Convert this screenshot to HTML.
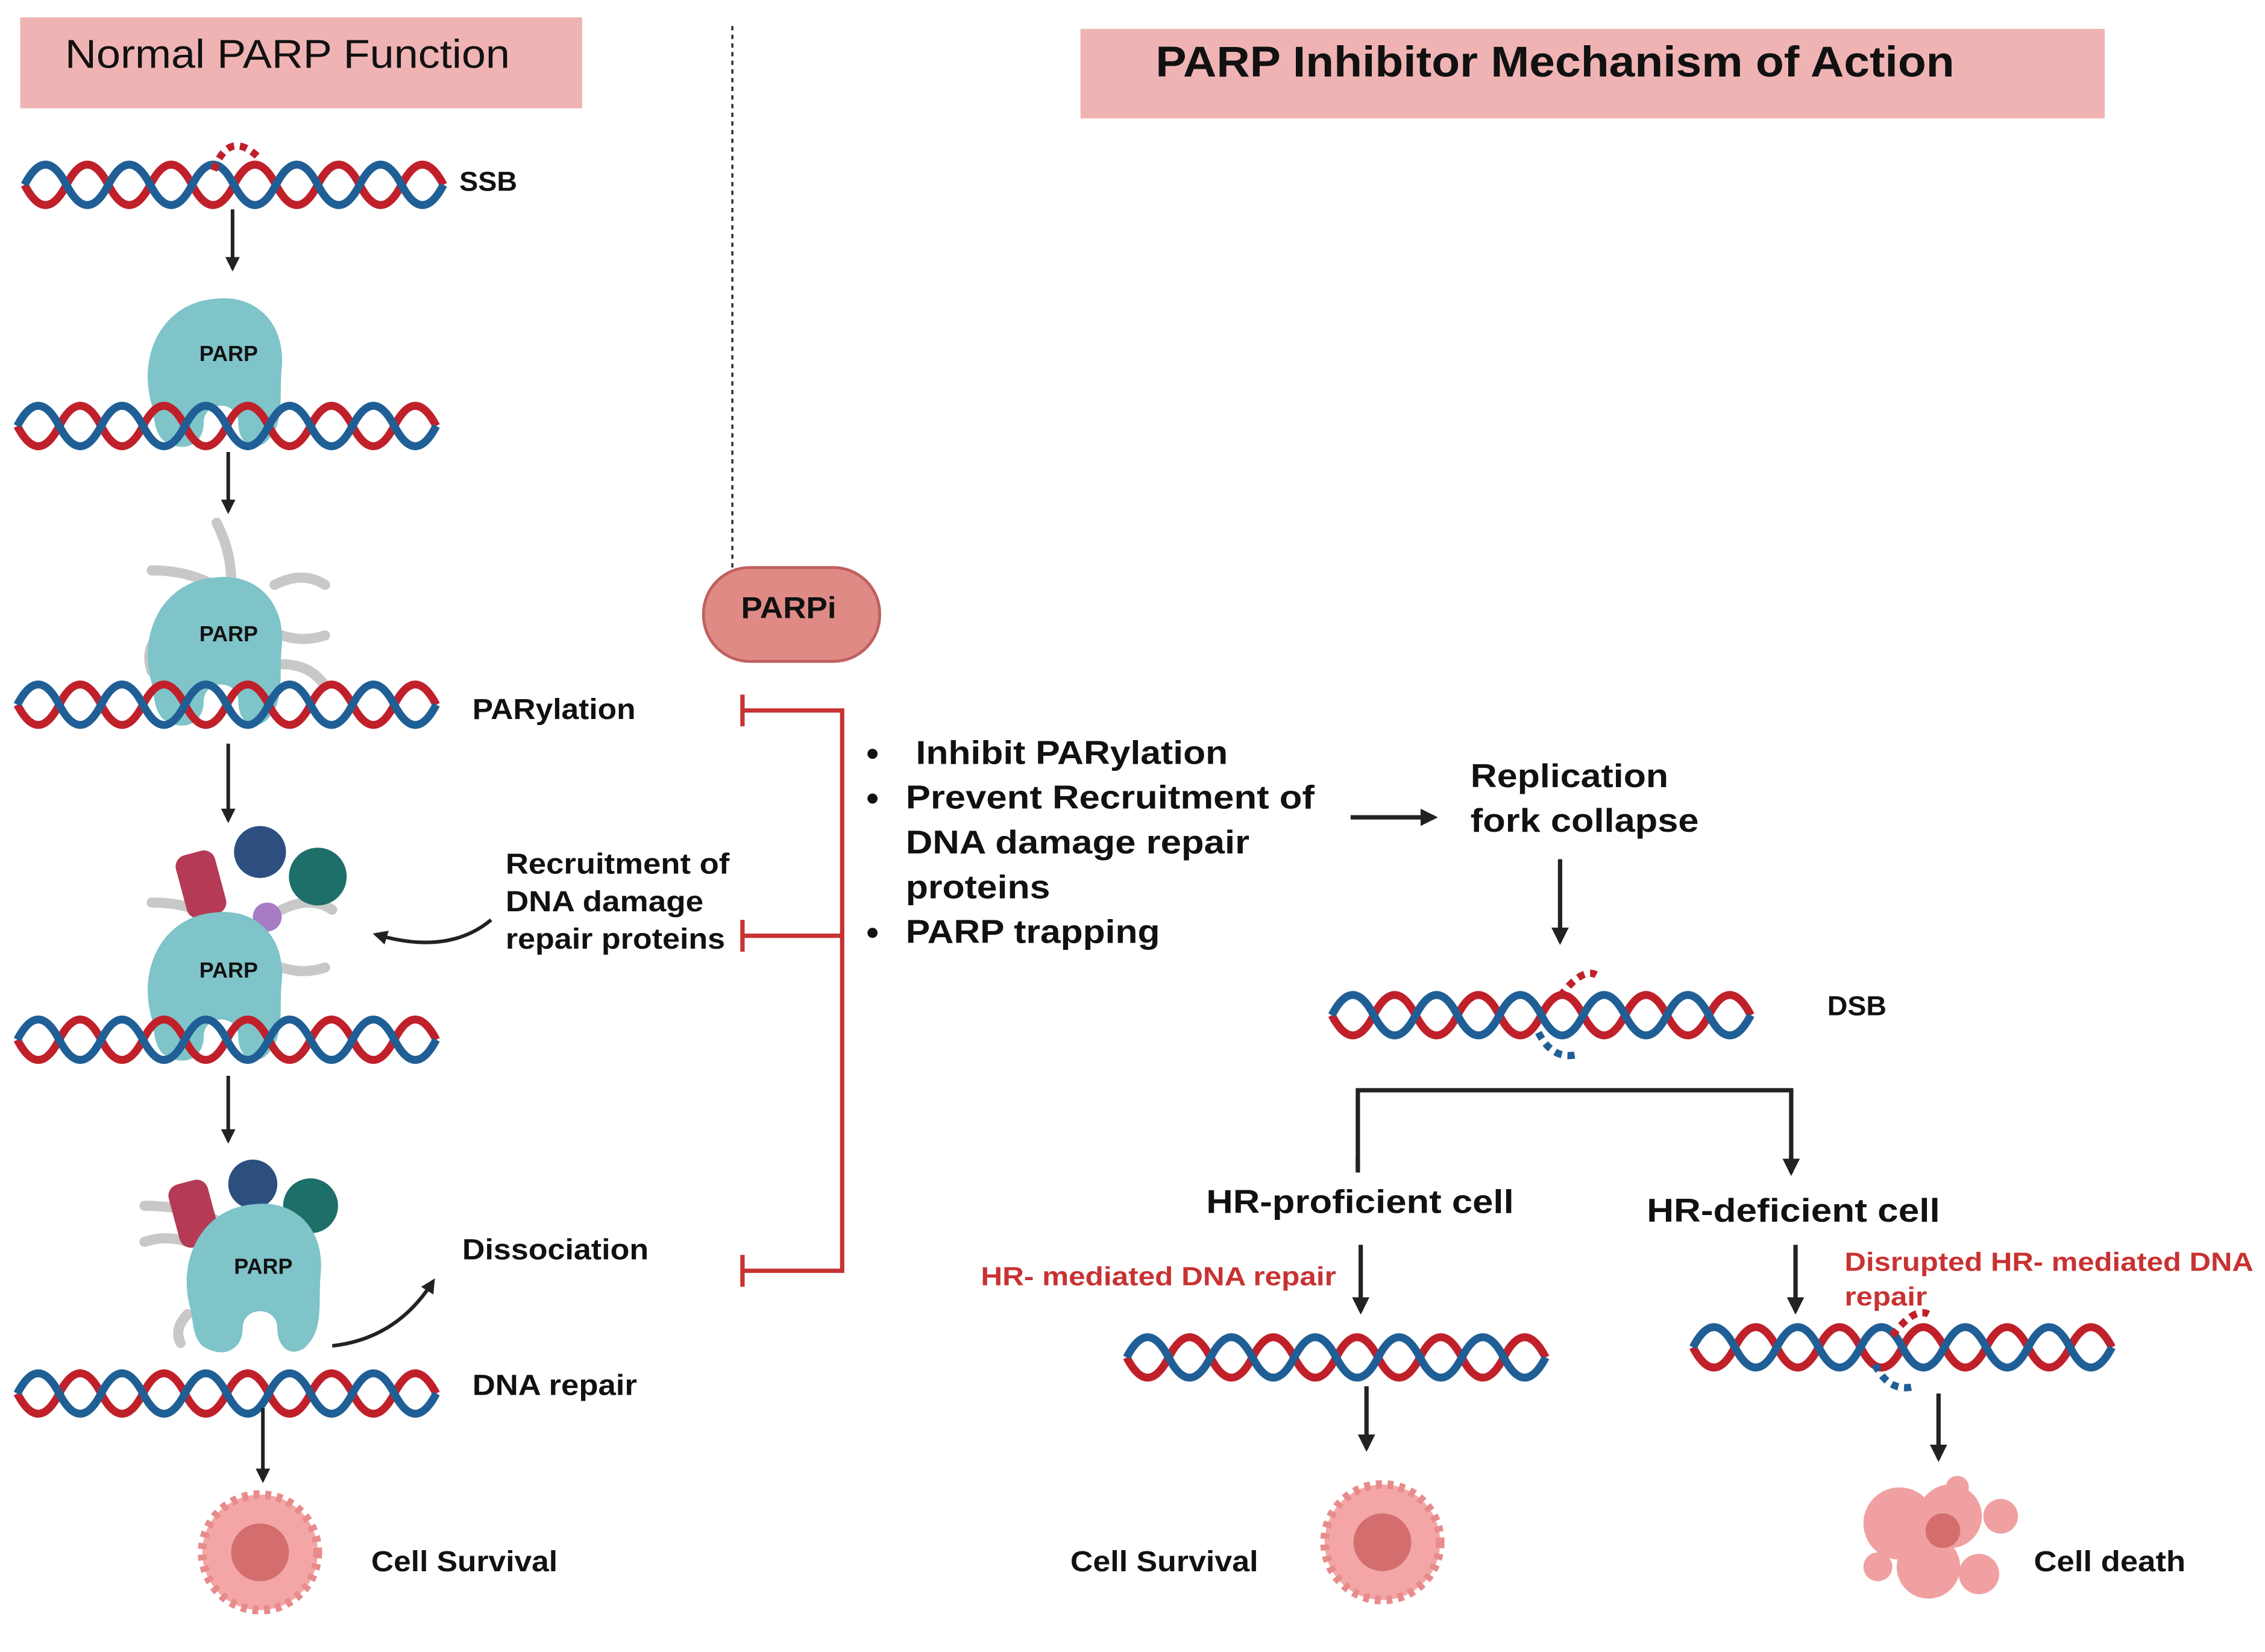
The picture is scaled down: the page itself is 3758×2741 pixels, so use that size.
<!DOCTYPE html>
<html><head><meta charset="utf-8"><style>
html,body{margin:0;padding:0;background:#fff}
svg{display:block}
text{font-family:"Liberation Sans",sans-serif;font-weight:bold;fill:#111}
</style></head><body>
<svg width="3758" height="2741" viewBox="0 0 1568 1144" preserveAspectRatio="none" xmlns="http://www.w3.org/2000/svg">
<defs>
<marker id="ah" viewBox="0 0 10 10" refX="8" refY="5" markerWidth="4" markerHeight="4" orient="auto"><path d="M0 0L10 5L0 10z" fill="#222"/></marker>
<g id="dna">
<path d="M0 0 q14.5 28 29 0 t29 0 t29 0 t29 0 t29 0 t29 0 t29 0 t29 0 t29 0 t29 0" fill="none" stroke="#c0202a" stroke-width="5.5"/>
<path d="M0 0 q14.5 -28 29 0 t29 0 t29 0 t29 0 t29 0 t29 0 t29 0 t29 0 t29 0 t29 0" fill="none" stroke="#1f5f96" stroke-width="5.5"/>
</g>
<g id="parp">
<path d="M-48 -5 C-58 -40 -40 -75 -5 -78 C25 -82 45 -60 42 -30 C40 -10 45 10 30 22 C20 28 12 20 12 8 C12 -8 -12 -8 -12 8 C-12 22 -25 30 -40 20 C-46 14 -46 6 -48 -5z" fill="#7ec4c9"/>
</g>
<g id="cell">
<circle r="40" fill="#f4a6a6" stroke="#e78b8b" stroke-width="6" stroke-dasharray="4 4"/>
<circle r="20" fill="#d46e6e"/>
</g>
</defs>

<rect x="14" y="12" width="389" height="63" fill="#f0b3b3"/>
<text x="45" y="47" font-size="28" textLength="308" lengthAdjust="spacingAndGlyphs" style="font-weight:normal">Normal PARP Function</text>
<rect x="748" y="20" width="709" height="62" fill="#f0b3b3"/>
<text x="800" y="53" font-size="30" textLength="553" lengthAdjust="spacingAndGlyphs">PARP Inhibitor Mechanism of Action</text>
<line x1="507" y1="18" x2="507" y2="395" stroke="#333" stroke-width="1.5" stroke-dasharray="3 3"/>

<use href="#dna" x="17" y="128"/>
<path d="M148 118 q10 -28 30 -10" fill="none" stroke="#c0202a" stroke-width="5" stroke-dasharray="5 4"/>
<text x="318" y="132" font-size="19" textLength="40" lengthAdjust="spacingAndGlyphs">SSB</text>
<line x1="161" y1="145" x2="161" y2="186" stroke="#222" stroke-width="2.5" marker-end="url(#ah)"/>

<use href="#parp" x="153" y="285"/>
<use href="#dna" x="12" y="295"/>
<text x="138" y="250" font-size="15">PARP</text>
<line x1="158" y1="313" x2="158" y2="354" stroke="#222" stroke-width="2.5" marker-end="url(#ah)"/>

<g stroke="#c8c8c8" stroke-width="7" fill="none" stroke-linecap="round">
<path d="M150 362 q10 20 10 40"/><path d="M105 395 q30 0 50 15"/><path d="M190 405 q20 -10 35 0"/><path d="M195 440 q15 5 30 0"/><path d="M110 440 q-10 10 -5 25"/><path d="M195 460 q20 0 30 15"/>
</g>
<use href="#parp" x="153" y="478"/>
<use href="#dna" x="12" y="488"/>
<text x="138" y="444" font-size="15">PARP</text>
<text x="327" y="498" font-size="20" textLength="113" lengthAdjust="spacingAndGlyphs">PARylation</text>
<line x1="158" y1="515" x2="158" y2="568" stroke="#222" stroke-width="2.5" marker-end="url(#ah)"/>

<g stroke="#c8c8c8" stroke-width="7" fill="none" stroke-linecap="round">
<path d="M105 625 q30 0 50 15"/><path d="M195 630 q20 -10 35 0"/><path d="M195 670 q15 5 30 0"/>
</g>
<rect x="125" y="590" width="28" height="45" rx="8" fill="#b53a55" transform="rotate(-15 139 612)"/>
<circle cx="180" cy="590" r="18" fill="#2c4f80"/>
<circle cx="220" cy="607" r="20" fill="#1e6e6a"/>
<circle cx="185" cy="635" r="10" fill="#a77cc4"/>
<use href="#parp" x="153" y="710"/>
<use href="#dna" x="12" y="720"/>
<text x="138" y="677" font-size="15">PARP</text>
<text x="350" y="605" font-size="20" textLength="155" lengthAdjust="spacingAndGlyphs">Recruitment of</text>
<text x="350" y="631" font-size="20" textLength="137" lengthAdjust="spacingAndGlyphs">DNA damage</text>
<text x="350" y="657" font-size="20" textLength="152" lengthAdjust="spacingAndGlyphs">repair proteins</text>
<path d="M340 637 q-30 25 -80 10" fill="none" stroke="#222" stroke-width="2.5" marker-end="url(#ah)"/>
<line x1="158" y1="745" x2="158" y2="790" stroke="#222" stroke-width="2.5" marker-end="url(#ah)"/>

<g stroke="#c8c8c8" stroke-width="7" fill="none" stroke-linecap="round">
<path d="M100 835 q30 0 50 10"/><path d="M100 860 q15 -5 30 0"/><path d="M130 910 q-10 10 -5 20"/>
</g>
<rect x="120" y="818" width="28" height="45" rx="8" fill="#b53a55" transform="rotate(-15 134 840)"/>
<circle cx="175" cy="820" r="17" fill="#2c4f80"/>
<circle cx="215" cy="835" r="19" fill="#1e6e6a"/>
<use href="#parp" x="180" y="912"/>
<text x="162" y="882" font-size="15">PARP</text>
<text x="320" y="872" font-size="20" textLength="129" lengthAdjust="spacingAndGlyphs">Dissociation</text>
<path d="M230 932 q45 -5 70 -45" fill="none" stroke="#222" stroke-width="2.5" marker-end="url(#ah)"/>
<use href="#dna" x="12" y="965"/>
<text x="327" y="966" font-size="20" textLength="114" lengthAdjust="spacingAndGlyphs">DNA repair</text>
<line x1="182" y1="975" x2="182" y2="1025" stroke="#222" stroke-width="2.5" marker-end="url(#ah)"/>
<use href="#cell" x="180" y="1075"/>
<text x="257" y="1088" font-size="20" textLength="129" lengthAdjust="spacingAndGlyphs">Cell Survival</text>

<rect x="487" y="393" width="122" height="65" rx="32" fill="#e08a86" stroke="#c06060" stroke-width="2"/>
<text x="513" y="428" font-size="21" textLength="66" lengthAdjust="spacingAndGlyphs">PARPi</text>
<g stroke="#c83232" stroke-width="3" fill="none">
<path d="M514 492 H583 V880 H514"/><path d="M514 648 H583"/>
<path d="M514 481 V503 M514 637 V659 M514 869 V891"/>
</g>

<g font-size="23">
<circle cx="604" cy="522" r="3.5" fill="#111"/>
<circle cx="604" cy="553" r="3.5" fill="#111"/>
<circle cx="604" cy="646" r="3.5" fill="#111"/>
<text x="634" y="529" textLength="216" lengthAdjust="spacingAndGlyphs">Inhibit PARylation</text>
<text x="627" y="560" textLength="283" lengthAdjust="spacingAndGlyphs">Prevent Recruitment of</text>
<text x="627" y="591" textLength="238" lengthAdjust="spacingAndGlyphs">DNA damage repair</text>
<text x="627" y="622" textLength="100" lengthAdjust="spacingAndGlyphs">proteins</text>
<text x="627" y="653" textLength="176" lengthAdjust="spacingAndGlyphs">PARP trapping</text>
<text x="1018" y="545" textLength="137" lengthAdjust="spacingAndGlyphs">Replication</text>
<text x="1018" y="576" textLength="158" lengthAdjust="spacingAndGlyphs">fork collapse</text>
</g>
<line x1="935" y1="566" x2="993" y2="566" stroke="#222" stroke-width="3" marker-end="url(#ah)"/>
<line x1="1080" y1="595" x2="1080" y2="652" stroke="#222" stroke-width="3" marker-end="url(#ah)"/>

<use href="#dna" x="922" y="703"/>
<path d="M1080 690 q15 -20 25 -15" fill="none" stroke="#c0202a" stroke-width="5" stroke-dasharray="5 4"/>
<path d="M1065 715 q10 20 28 15" fill="none" stroke="#1f5f96" stroke-width="5" stroke-dasharray="5 4"/>
<text x="1265" y="703" font-size="19" textLength="41" lengthAdjust="spacingAndGlyphs">DSB</text>

<path d="M940 810 V755 H1240 V810" fill="none" stroke="#222" stroke-width="3"/>
<path d="M940 800 v12 M1240 800 v12" stroke="#222" stroke-width="3" marker-end="url(#ah)"/>
<text x="835" y="840" font-size="23" textLength="213" lengthAdjust="spacingAndGlyphs">HR-proficient cell</text>
<text x="1140" y="846" font-size="23" textLength="203" lengthAdjust="spacingAndGlyphs">HR-deficient cell</text>
<text x="679" y="890" font-size="18" textLength="246" lengthAdjust="spacingAndGlyphs" style="fill:#c83232">HR- mediated DNA repair</text>
<text x="1277" y="880" font-size="18" textLength="283" lengthAdjust="spacingAndGlyphs" style="fill:#c83232">Disrupted HR- mediated DNA</text>
<text x="1277" y="904" font-size="18" textLength="57" lengthAdjust="spacingAndGlyphs" style="fill:#c83232">repair</text>
<line x1="942" y1="862" x2="942" y2="908" stroke="#222" stroke-width="3" marker-end="url(#ah)"/>
<line x1="1243" y1="862" x2="1243" y2="908" stroke="#222" stroke-width="3" marker-end="url(#ah)"/>
<use href="#dna" x="780" y="940"/>
<use href="#dna" x="1172" y="933"/>
<path d="M1310 925 q15 -20 25 -15" fill="none" stroke="#c0202a" stroke-width="5" stroke-dasharray="5 4"/>
<path d="M1298 945 q10 20 28 15" fill="none" stroke="#1f5f96" stroke-width="5" stroke-dasharray="5 4"/>
<line x1="946" y1="960" x2="946" y2="1003" stroke="#222" stroke-width="3" marker-end="url(#ah)"/>
<line x1="1342" y1="965" x2="1342" y2="1010" stroke="#222" stroke-width="3" marker-end="url(#ah)"/>
<use href="#cell" x="957" y="1068"/>
<text x="741" y="1088" font-size="20" textLength="130" lengthAdjust="spacingAndGlyphs">Cell Survival</text>
<g fill="#f0a0a0">
<circle cx="1315" cy="1055" r="25"/><circle cx="1350" cy="1050" r="22"/><circle cx="1335" cy="1085" r="22"/><circle cx="1370" cy="1090" r="14"/><circle cx="1385" cy="1050" r="12"/><circle cx="1355" cy="1030" r="8"/><circle cx="1300" cy="1085" r="10"/>
</g>
<circle cx="1345" cy="1060" r="12" fill="#d46e6e"/>
<text x="1408" y="1088" font-size="20" textLength="105" lengthAdjust="spacingAndGlyphs">Cell death</text>
</svg>
</body></html>
